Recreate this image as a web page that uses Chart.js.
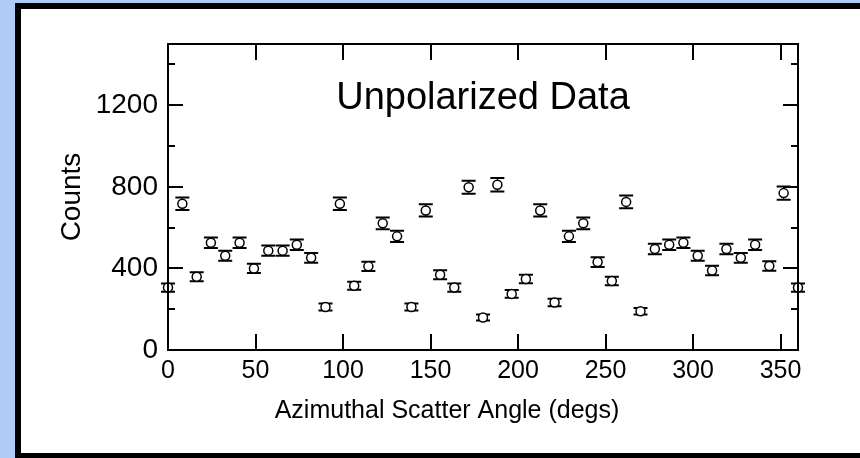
<!DOCTYPE html>
<html>
<head>
<meta charset="utf-8">
<title>Unpolarized Data</title>
<script src="https://cdn.jsdelivr.net/npm/chart.js@4.4.1/dist/chart.umd.min.js"></script>
<style>
	html, body { margin: 0; padding: 0; }
	body { width: 860px; height: 458px; overflow: hidden; background: #afcbf8; position: relative; }
	.frame { position: absolute; left: 15px; top: 3px; width: 900px; height: 444px; border: 6px solid #000; background: #fff; }
	#myChart { position: absolute; left: 0; top: 0; }
</style>
</head>
<body>
<div class="frame"></div>
<canvas id="myChart" width="860" height="458"></canvas>
<script>
// углы рассеяния (градусы)
const angles = [
	0, 8.2, 16.4, 24.5, 32.7, 40.9, 49.1, 57.3, 65.5, 73.6, 81.8, 90, 98.2, 106.4, 114.5,
	122.7, 130.9, 139.1, 147.3, 155.5, 163.6, 171.8, 180, 188.2, 196.4, 204.5, 212.7, 220.9,
	229.1, 237.3, 245.5, 253.6, 261.8, 270, 278.2, 286.4, 294.5, 302.7, 310.9, 319.1, 327.3,
	335.5, 343.6, 351.8, 360,
];
// отсчёты
const counts = [
	306, 717, 359, 526, 462, 526, 400, 487, 487, 516, 452, 211, 717, 315, 410,
	621, 557, 211, 684, 369, 306, 798, 159, 810, 275, 348, 684, 233,
	557, 621, 431, 338, 726, 190, 495, 516, 526, 462, 390, 495, 452,
	516, 412, 769, 306,
];
// ошибки
const errors = [
	20, 31, 22, 26, 25, 26, 23, 25, 25, 26, 24, 17, 31, 20, 23,
	29, 27, 17, 30, 22, 20, 32, 15, 33, 19, 21, 30, 18,
	27, 29, 24, 21, 31, 16, 26, 26, 26, 25, 23, 26, 24,
	26, 23, 32, 20,
];
const xTicks = [0, 50, 100, 150, 200, 250, 300, 350];
const yTicks = [0, 400, 800, 1200];
const yMinorTicks = [200, 600, 1000, 1400];

const fontFamily = "'Liberation Sans', Arial, sans-serif";

// рамка графика и засечки внутрь
const frameTicks = {
	id: "frameTicks",
	afterDraw(chart) {
		const { ctx, chartArea: a, scales } = chart;
		ctx.save();
		ctx.strokeStyle = "#000";
		ctx.lineWidth = 2;
		ctx.strokeRect(a.left, a.top, a.right - a.left, a.bottom - a.top);
		ctx.beginPath();
		xTicks.forEach((v) => {
			const x = Math.round(scales.x.getPixelForValue(v));
			ctx.moveTo(x, a.bottom);
			ctx.lineTo(x, a.bottom - 16);
			ctx.moveTo(x, a.top);
			ctx.lineTo(x, a.top + 16);
		});
		yTicks.forEach((v) => {
			const y = Math.round(scales.y.getPixelForValue(v));
			ctx.moveTo(a.left, y);
			ctx.lineTo(a.left + 15, y);
			ctx.moveTo(a.right, y);
			ctx.lineTo(a.right - 15, y);
		});
		yMinorTicks.forEach((v) => {
			const y = Math.round(scales.y.getPixelForValue(v));
			ctx.moveTo(a.left, y);
			ctx.lineTo(a.left + 7, y);
			ctx.moveTo(a.right, y);
			ctx.lineTo(a.right - 7, y);
		});
		ctx.stroke();

		ctx.fillStyle = "#000";
		ctx.textAlign = "center";
		ctx.textBaseline = "alphabetic";
		// надпись внутри графика
		ctx.font = "38px " + fontFamily;
		ctx.fillText("Unpolarized Data", (a.left + a.right) / 2, a.top + 65);
		// подпись оси X (смещена влево, как в оригинале)
		ctx.font = "25px " + fontFamily;
		ctx.fillText("Azimuthal Scatter Angle (degs)", 447, 418);
		ctx.restore();
	},
};

// планки погрешностей
const errorBars = {
	id: "errorBars",
	beforeDatasetsDraw(chart) {
		const { ctx, scales } = chart;
		const meta = chart.getDatasetMeta(0);
		ctx.save();
		ctx.strokeStyle = "#000";
		meta.data.forEach((pt, i) => {
			const yHi = scales.y.getPixelForValue(counts[i] + errors[i]);
			const yLo = scales.y.getPixelForValue(counts[i] - errors[i]);
			ctx.lineWidth = 1;
			ctx.beginPath();
			ctx.moveTo(pt.x, yHi);
			ctx.lineTo(pt.x, yLo);
			ctx.stroke();
			ctx.lineWidth = 2;
			ctx.beginPath();
			ctx.moveTo(pt.x - 7, yHi);
			ctx.lineTo(pt.x + 7, yHi);
			ctx.moveTo(pt.x - 7, yLo);
			ctx.lineTo(pt.x + 7, yLo);
			ctx.stroke();
		});
		ctx.restore();
	},
};

const ctx = document.getElementById("myChart");

const config = {
	type: "scatter",
	data: {
		datasets: [
			{
				data: angles.map((a, i) => ({ x: a, y: counts[i] })),
				clip: false,
				pointRadius: 4.5,
				pointBorderWidth: 1.5,
				pointBackgroundColor: "#fff",
				pointBorderColor: "#000",
			},
		],
	},
	options: {
		responsive: false,
		animation: false,
		events: [],
		layout: {
			padding: { top: 44, right: 62, left: 0, bottom: 0 },
		},
		plugins: {
			legend: { display: false },
			tooltip: { enabled: false },
		},
		scales: {
			x: {
				type: "linear",
				min: 0,
				max: 360,
				afterFit: (s) => { s.height = 108; },
				afterBuildTicks: (s) => { s.ticks = xTicks.map((v) => ({ value: v })); },
				grid: { display: false, drawTicks: false },
				border: { display: false },
				ticks: {
					padding: 6,
					maxRotation: 0,
					autoSkip: false,
					color: "#000",
					font: { family: fontFamily, size: 25 },
					callback: (v) => String(v),
				},
			},
			y: {
				min: 0,
				max: 1500,
				afterFit: (s) => { s.width = 168; },
				afterBuildTicks: (s) => { s.ticks = yTicks.map((v) => ({ value: v })); },
				grid: { display: false, drawTicks: false },
				border: { display: false },
				ticks: {
					padding: 10,
					autoSkip: false,
					color: "#000",
					font: { family: fontFamily, size: 28 },
					callback: (v) => String(v),
				},
				title: {
					display: true,
					text: "Counts",
					color: "#000",
					font: { family: fontFamily, size: 28 },
					padding: { top: 55, bottom: 0 },
				},
			},
		},
	},
	plugins: [errorBars, frameTicks],
};

const chart = new Chart(ctx, config);
</script>
</body>
</html>
